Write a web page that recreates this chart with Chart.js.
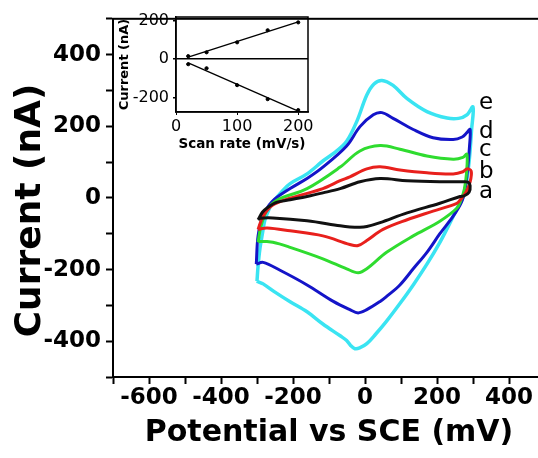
<!DOCTYPE html>
<html lang="en">
<head>
<meta charset="UTF-8">
<title>Cyclic voltammograms</title>
<script src="https://cdn.jsdelivr.net/npm/chart.js"></script>
<style>
  html, body { margin: 0; padding: 0; overflow: hidden; background: #fff; }
  #wrap { position: relative; width: 538px; height: 458px; overflow: hidden; }
  #main, #inset { position: absolute; left: 0; top: 0; }
</style>
</head>
<body>
<div id="wrap">
  <canvas id="main" width="560" height="458"></canvas>
  <canvas id="inset" width="330" height="160"></canvas>
</div>
<script>
// loops: [potential (mV), current (nA)], forward scan then reverse scan
const curveA = [[-297,-61],[-285,-40],[-272,-28],[-244,-12],[-208,-5],[-161,4],[-117,14],[-69,26],[-14,45],[42,54],[117,48],[208,45],[269,45],[286,44],[292,34],
  [289,16],[276,6],[264,4],[208,-15],[117,-42],[42,-69],[5,-80],[-14,-82],[-42,-81],[-69,-78],[-161,-64],[-256,-56],[-292,-57],[-297,-61]];
const curveB = [[-297,-88],[-283,-51],[-256,-20],[-208,-1],[-117,26],[-69,48],[-42,59],[5,81],[42,87],[97,78],[172,70],[245,67],[272,73],[283,81],[295,75],
  [292,45],[280,15],[265,-5],[255,-15],[189,-37],[117,-61],[50,-88],[5,-119],[-19,-133],[-42,-130],[-117,-106],[-208,-92],[-272,-84],[-297,-88]];
const curveC = [[-297,-124],[-289,-79],[-272,-34],[-244,-6],[-161,26],[-69,86],[-14,131],[42,146],[97,136],[172,117],[245,108],[272,113],[283,122],
  [282,70],[276,25],[266,-8],[255,-29],[208,-65],[134,-106],[60,-152],[5,-198],[-19,-209],[-51,-198],[-117,-170],[-208,-138],[-256,-124],[-292,-121],[-297,-124]];
const curveD = [[-302,-185],[-297,-106],[-283,-51],[-258,-10],[-208,26],[-160,55],[-117,86],[-51,145],[-14,199],[23,232],[47,238],[78,222],[134,191],[189,168],[245,163],[270,170],[283,182],[292,191],
  [290,140],[285,80],[278,25],[268,-12],[245,-51],[208,-100],[172,-152],[134,-198],[97,-243],[60,-275],[42,-289],[5,-312],[-19,-321],[-42,-312],[-88,-289],[-161,-243],[-236,-202],[-283,-180],[-302,-185]];
const curveE = [[-300,-232],[-297,-190],[-292,-143],[-285,-100],[-278,-61],[-268,-35],[-258,-15],[-228,21],[-208,40],[-161,67],[-117,103],[-80,130],[-51,158],[-23,213],[5,287],[25,318],[47,328],[78,314],[117,277],[172,241],[228,223],[260,222],[283,232],[300,254],
  [296,190],[290,110],[282,45],[272,0],[259,-23],[235,-72],[208,-124],[172,-185],[134,-243],[97,-295],[60,-344],[30,-380],[5,-407],[-15,-419],[-28,-421],[-40,-412],[-51,-398],[-69,-385],[-117,-352],[-161,-318],[-208,-290],[-250,-263],[-283,-240],[-297,-234],[-300,-232]];

const curveNames = ['a', 'b', 'c', 'd', 'e'];
const curveColors = ['#111111', '#e8201c', '#2fdc2f', '#1414c8', '#3ae4f2'];
const curveLabelY = [0, 55, 118, 168, 247];   // nA, where the letters sit
const curveLabelX = 317;                      // mV

// inset: peak currents against scan rate
const scanRate = [20, 50, 100, 150, 200];
const anodicPeak = [16, 36, 88, 151, 192];
const cathodicPeak = [-26, -47, -135, -208, -265];

const boldFont = (size) => ({ family: 'DejaVu Sans', weight: 'bold', size: size, lineHeight: 1 });

function toPoints(pairs) {
    return pairs.map(p => ({ x: p[0], y: p[1] }));
}

// least squares line across the measured scan rates
function fitLine(xs, ys) {
    const n = xs.length;
    const mx = xs.reduce((a, b) => a + b, 0) / n;
    const my = ys.reduce((a, b) => a + b, 0) / n;
    let sxy = 0, sxx = 0;
    for (let i = 0; i < n; i++) {
        sxy += (xs[i] - mx) * (ys[i] - my);
        sxx += (xs[i] - mx) * (xs[i] - mx);
    }
    const k = sxy / sxx;
    const x0 = xs[0], x1 = xs[n - 1];
    return [{ x: x0, y: my + k * (x0 - mx) }, { x: x1, y: my + k * (x1 - mx) }];
}

const framePlugin = {
    id: 'frame',
    afterDraw(chart, args, opts) {
        const a = chart.chartArea;
        const ctx = chart.ctx;
        ctx.save();
        ctx.strokeStyle = '#000';
        ctx.lineWidth = opts.width || 2;
        ctx.strokeRect(a.left, a.top, a.right - a.left, a.bottom - a.top);
        ctx.restore();
    }
};

const letterPlugin = {
    id: 'letters',
    afterDatasetsDraw(chart) {
        const ctx = chart.ctx;
        ctx.save();
        ctx.font = '23px "DejaVu Sans"';
        ctx.fillStyle = '#000';
        ctx.textAlign = 'left';
        ctx.textBaseline = 'alphabetic';
        curveNames.forEach((name, i) => {
            ctx.fillText(name, chart.scales.x.getPixelForValue(curveLabelX), chart.scales.y.getPixelForValue(curveLabelY[i]));
        });
        ctx.restore();
    }
};

const curves = [curveA, curveB, curveC, curveD, curveE];

new Chart(document.getElementById('main'), {
    type: 'scatter',
    data: {
        datasets: curves.map((c, i) => ({
            label: curveNames[i],
            data: toPoints(c),
            showLine: true,
            borderColor: curveColors[i],
            borderWidth: i === 4 ? 3.5 : 3,
            pointRadius: 0,
            tension: 0.35
        }))
    },
    options: {
        responsive: false,
        animation: false,
        layout: { padding: { top: 12, right: 15, left: 0, bottom: 0 } },
        plugins: { legend: { display: false }, tooltip: { enabled: false }, frame: { width: 2 } },
        scales: {
            x: {
                type: 'linear', min: -700, max: 500,
                ticks: {
                    stepSize: 100, autoSkip: false, maxRotation: 0, color: '#000', padding: 0,
                    font: { family: 'DejaVu Sans', weight: 'bold', size: 23 },
                    callback: v => v % 200 === 0 ? v : ''
                },
                grid: { drawOnChartArea: false, tickLength: 7, tickColor: '#000', tickWidth: 2 },
                border: { color: '#000', width: 2 },
                title: { display: true, text: 'Potential vs SCE (mV)', color: '#000', font: boldFont(30), padding: { top: 0, bottom: 10 } },
                afterFit: s => { s.height = 81; }
            },
            y: {
                type: 'linear', min: -500, max: 500,
                ticks: {
                    stepSize: 100, autoSkip: false, color: '#000', padding: 5,
                    font: { family: 'DejaVu Sans', weight: 'bold', size: 23 },
                    callback: v => v % 200 === 0 ? v : ''
                },
                grid: { drawOnChartArea: false, tickLength: 7, tickColor: '#000', tickWidth: 2 },
                border: { color: '#000', width: 2 },
                title: { display: true, text: 'Current (nA)  ', color: '#000', font: boldFont(36), padding: { top: 13, bottom: 0 } },
                afterFit: s => { s.width = 113; }
            }
        }
    },
    plugins: [framePlugin, letterPlugin]
});

new Chart(document.getElementById('inset'), {
    type: 'scatter',
    data: {
        datasets: [
            { data: scanRate.map((x, i) => ({ x: x, y: anodicPeak[i] })), pointRadius: 1.6, backgroundColor: '#000', borderColor: '#000' },
            { data: scanRate.map((x, i) => ({ x: x, y: cathodicPeak[i] })), pointRadius: 1.6, backgroundColor: '#000', borderColor: '#000' },
            { data: fitLine(scanRate, anodicPeak), showLine: true, pointRadius: 0, borderWidth: 1.3, borderColor: '#000' },
            { data: fitLine(scanRate, cathodicPeak), showLine: true, pointRadius: 0, borderWidth: 1.3, borderColor: '#000' }
        ]
    },
    options: {
        responsive: false,
        animation: false,
        layout: { padding: { top: 17, right: 22, left: 0, bottom: 0 } },
        plugins: { legend: { display: false }, tooltip: { enabled: false }, frame: { width: 1.5 } },
        scales: {
            x: {
                type: 'linear', min: 0, max: 216,
                afterBuildTicks: s => { s.ticks = [0, 100, 200].map(v => ({ value: v })); },
                ticks: { color: '#000', padding: 2, maxRotation: 0, font: { family: 'DejaVu Sans', size: 16 } },
                grid: { drawOnChartArea: false, tickLength: 3, tickColor: '#000' },
                border: { color: '#000', width: 1.5 },
                title: { display: true, text: 'Scan rate (mV/s)', color: '#000', font: boldFont(13.5), padding: { top: 0, bottom: 9 } },
                afterFit: s => { s.height = 48; }
            },
            y: {
                type: 'linear', min: -275, max: 220,
                afterBuildTicks: s => { s.ticks = [-200, 0, 200].map(v => ({ value: v })); },
                ticks: { color: '#000', padding: 4, font: { family: 'DejaVu Sans', size: 16 } },
                grid: {
                    color: c => (c.tick && c.tick.value === 0) ? '#000' : 'rgba(0,0,0,0)',
                    lineWidth: 1.5, tickLength: 3, tickColor: '#000'
                },
                border: { color: '#000', width: 1.5 },
                title: { display: true, text: 'Current (nA)', color: '#000', font: boldFont(13), padding: { top: 118, bottom: 0 } },
                afterFit: s => { s.width = 176; }
            }
        }
    },
    plugins: [framePlugin]
});
</script>
</body>
</html>
